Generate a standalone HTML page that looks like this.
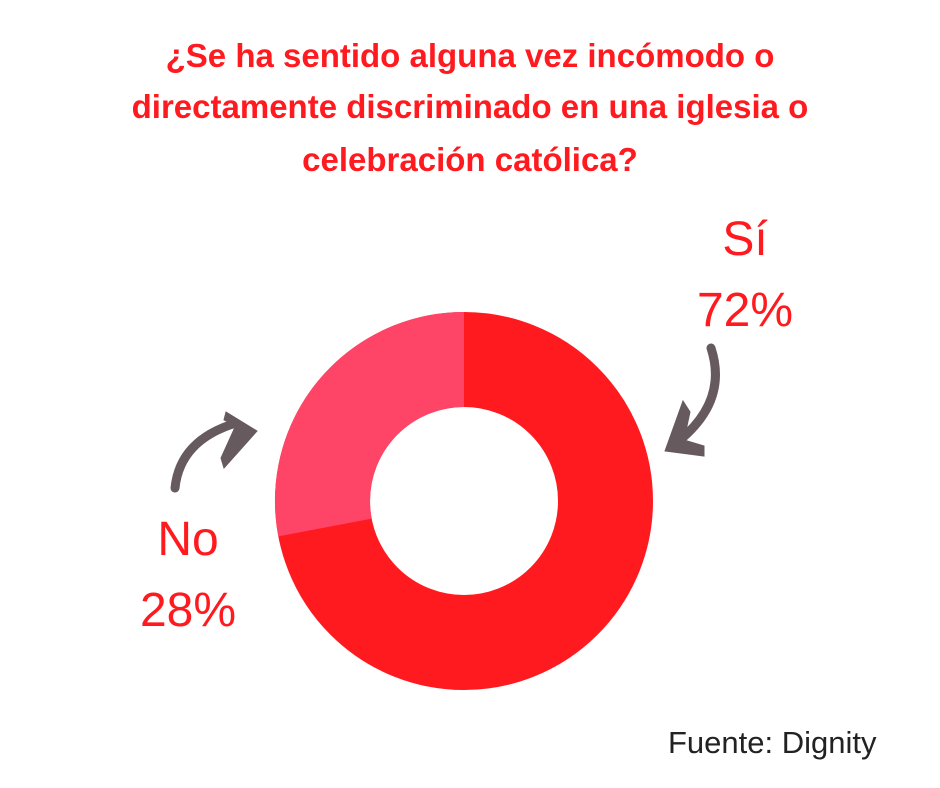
<!DOCTYPE html>
<html><head><meta charset="utf-8"><style>
body{margin:0;width:940px;height:788px;background:#fff;overflow:hidden;font-family:"Liberation Sans",sans-serif}
.t{position:absolute;left:0;width:940px;text-align:center;color:#ff1a1f;font-weight:bold;font-size:33px;line-height:38px}
.l{position:absolute;color:#ff1a1f;font-size:48px;text-align:center;width:160px}
</style></head><body>
<div class="t" style="top:37px">¿Se ha sentido alguna vez incómodo o</div>
<div class="t" style="top:88px">directamente discriminado en una iglesia o</div>
<div class="t" style="top:141px">celebración católica?</div>
<div class="l" style="left:665px;top:212px">Sí</div>
<div class="l" style="left:665px;top:283px">72%</div>
<div class="l" style="left:108px;top:512px">No</div>
<div class="l" style="left:108px;top:583px">28%</div>
<div style="position:absolute;left:668px;top:725px;font-size:31px;color:#222">Fuente: Dignity</div>
<svg width="940" height="788" style="position:absolute;left:0;top:0">
<circle cx="464" cy="501" r="141.5" fill="none" stroke="#ff1a1f" stroke-width="95"/>
<path d="M464 312 A189 189 0 0 0 278.3 536.4 L371.7 518.6 A94 94 0 0 1 464 407 Z" fill="#ff4567"/>
<g fill="#665a5e" stroke="#665a5e" stroke-linecap="round">
<path d="M175 488 Q180 440 236 423" fill="none" stroke-width="9"/>
<polygon points="257,431 226,412 224,420 236,425 221,458 224,468"/>
<path d="M711 348 Q728 400 680 440" fill="none" stroke-width="9"/>
<polygon points="665,451 683,401 690,412 684,440 704,446 704,456"/>
</g>
</svg>
</body></html>
